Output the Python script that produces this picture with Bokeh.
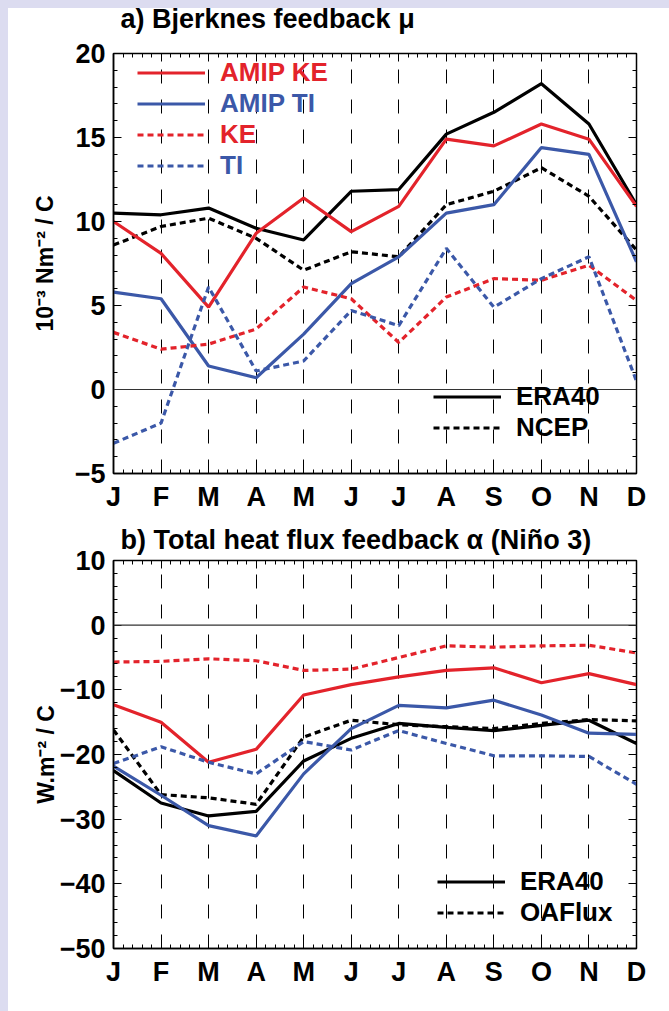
from bokeh.plotting import figure
from bokeh.models import (Range1d, FixedTicker, LinearAxis, Legend, LegendItem,
                          Span, Title)
from bokeh.layouts import column
from bokeh.embed import file_html
from bokeh.resources import INLINE

months = ["J", "F", "M", "A", "M", "J", "J", "A", "S", "O", "N", "D"]
x = list(range(12))

# Panel a) Bjerknes feedback (10^-3 N m^-2 / C)
a_era40 = [10.5, 10.4, 10.8, 9.6, 8.9, 11.8, 11.9, 15.2, 16.5, 18.2, 15.8, 11.0]
a_ncep = [8.6, 9.7, 10.2, 9.0, 7.1, 8.2, 7.9, 11.0, 11.8, 13.2, 11.5, 8.3]
a_amip_ke = [10.0, 8.1, 4.9, 9.3, 11.4, 9.4, 10.9, 14.9, 14.5, 15.8, 14.9, 10.9]
a_amip_ti = [5.8, 5.4, 1.4, 0.7, 3.3, 6.3, 7.9, 10.5, 11.0, 14.4, 14.0, 7.6]
a_ke = [3.4, 2.4, 2.7, 3.6, 6.1, 5.4, 2.8, 5.5, 6.6, 6.5, 7.4, 5.3]
a_ti = [-3.2, -2.0, 6.1, 1.1, 1.7, 4.7, 3.8, 8.4, 4.9, 6.6, 7.9, 0.5]

# Panel b) Total heat flux feedback (W m^-2 / C)
b_era40 = [-22.5, -27.5, -29.5, -28.8, -21.0, -17.5, -15.2, -15.8, -16.3, -15.5, -14.7, -18.3]
b_oaflux = [-16.2, -26.2, -26.7, -27.7, -17.3, -14.7, -15.4, -15.7, -16.0, -15.2, -14.6, -14.8]
b_amip_ke = [-12.3, -15.0, -21.2, -19.2, -10.8, -9.2, -8.0, -7.0, -6.6, -8.9, -7.5, -9.2]
b_amip_ti = [-21.8, -26.3, -31.0, -32.6, -23.0, -16.0, -12.4, -12.8, -11.6, -13.9, -16.7, -16.9]
b_ke = [-5.7, -5.6, -5.2, -5.5, -7.0, -6.8, -5.0, -3.2, -3.4, -3.2, -3.1, -4.3]
b_ti = [-21.4, -18.8, -21.2, -23.0, -18.0, -19.3, -16.3, -18.3, -20.2, -20.2, -20.3, -24.6]

RED = "#e3232b"
BLUE = "#3b58a8"
BLACK = "#000000"
FONT = "Liberation Sans"
DASH = "6 4"
LW = 3.2


def make_panel(height, yr, yticks, yminor, border_top, border_bottom, title, ylabel,
               lstand, tstand):
    p = figure(width=661, height=height, x_range=Range1d(0, 11), y_range=Range1d(*yr),
               output_backend="svg", toolbar_location=None,
               min_border_left=105, min_border_right=33,
               min_border_top=border_top, min_border_bottom=border_bottom)
    p.outline_line_color = "black"
    p.outline_line_width = 1.5
    p.background_fill_color = "white"
    p.border_fill_color = "white"

    xt = FixedTicker(ticks=x, minor_ticks=[i / 5 for i in range(0, 56)])
    yt = FixedTicker(ticks=yticks, minor_ticks=yminor)

    p.xaxis.ticker = xt
    p.xaxis.major_label_overrides = {i: m for i, m in enumerate(months)}
    p.yaxis.ticker = yt
    for ax in (p.xaxis[0], p.yaxis[0]):
        ax.major_tick_in = 8
        ax.major_tick_out = 0
        ax.minor_tick_in = 4
        ax.minor_tick_out = 0
        ax.axis_line_color = "black"
        ax.axis_line_width = 1.5
        ax.major_label_text_font = FONT
        ax.major_label_text_font_size = "27px"
        ax.major_label_text_font_style = "bold"
        ax.major_label_text_color = "black"
        ax.major_label_standoff = 8
    p.yaxis.axis_label = ylabel
    p.yaxis.axis_label_text_font = FONT
    p.yaxis.axis_label_text_font_size = "23px"
    p.yaxis.axis_label_text_font_style = "bold"
    p.yaxis.axis_label_text_color = "black"
    p.yaxis.axis_label_standoff = lstand

    top = LinearAxis(ticker=xt, major_tick_in=8, major_tick_out=0, minor_tick_in=4,
                     minor_tick_out=0, major_label_text_font_size="0px",
                     major_label_text_color=None, axis_line_color="black")
    right = LinearAxis(ticker=yt, major_tick_in=8, major_tick_out=0, minor_tick_in=4,
                       minor_tick_out=0, major_label_text_font_size="0px",
                       major_label_text_color=None, axis_line_color="black")
    p.add_layout(top, "above")
    p.add_layout(right, "right")
    p.add_layout(Title(text=title, align="left", offset=7, text_font=FONT,
                       text_font_size="27px", text_font_style="bold",
                       text_color="black", standoff=tstand), "above")

    p.xgrid.ticker = FixedTicker(ticks=list(range(1, 11)))
    p.xgrid.grid_line_color = "black"
    p.xgrid.grid_line_width = 1
    p.xgrid.grid_line_dash = "14 16"
    p.ygrid.visible = False
    p.add_layout(Span(location=0, dimension="width", line_color="#333333", line_width=1.2))
    return p


def add_series(p, era, ref, amip_ke, amip_ti, ke, ti):
    r_era = p.line(x, era, line_color=BLACK, line_width=LW)
    r_ref = p.line(x, ref, line_color=BLACK, line_width=LW, line_dash=DASH)
    r_ake = p.line(x, amip_ke, line_color=RED, line_width=LW)
    r_ati = p.line(x, amip_ti, line_color=BLUE, line_width=LW)
    r_ke = p.line(x, ke, line_color=RED, line_width=LW, line_dash=DASH)
    r_ti = p.line(x, ti, line_color=BLUE, line_width=LW, line_dash=DASH)
    return r_era, r_ref, r_ake, r_ati, r_ke, r_ti


def legend(items, loc, color, gh=31):
    lg = Legend(items=[LegendItem(label=t, renderers=[r]) for t, r in items],
                location=loc, label_text_color=color, label_text_font=FONT,
                label_text_font_size="26px", label_text_font_style="bold",
                glyph_width=68, glyph_height=gh, label_height=gh, label_standoff=15,
                padding=0, margin=0, spacing=0, border_line_color=None,
                background_fill_alpha=0)
    return lg


# ---------- panel a ----------
p1 = make_panel(535, (-5, 20), [-5, 0, 5, 10, 15, 20], list(range(-5, 21)), 73, 42,
                "a)  Bjerknes feedback  μ", "10⁻³ Nm⁻² / C", 14, 40)
p1.border_fill_alpha = 0
ra = add_series(p1, a_era40, a_ncep, a_amip_ke, a_amip_ti, a_ke, a_ti)
p1.add_layout(legend([("AMIP KE", ra[2])], (24, 385), RED))
p1.add_layout(legend([("AMIP TI", ra[3])], (24, 354), BLUE))
p1.add_layout(legend([("KE", ra[4])], (24, 323), RED))
p1.add_layout(legend([("TI", ra[5])], (24, 292), BLUE))
p1.add_layout(legend([("ERA40", ra[0]), ("NCEP", ra[1])], (320, 30), BLACK))
p1.margin = (-20, 0, 0, 8)

# ---------- panel b ----------
p2 = make_panel(496, (-50, 10), [-50, -40, -30, -20, -10, 0, 10], list(range(-50, 11, 2)), 45, 63,
                "b)  Total heat flux feedback α (Niño 3)", "W.m⁻² / C", -2, 12)
rb = add_series(p2, b_era40, b_oaflux, b_amip_ke, b_amip_ti, b_ke, b_ti)
p2.add_layout(legend([("ERA40", rb[0]), ("OAFlux", rb[1])], (324, 20), BLACK, gh=27))
p2.margin = (0, 0, 0, 8)

bg = ("linear-gradient(#dcdcf0 8px, transparent 8px), "
      "linear-gradient(to right, #dcdcf0 8px, #ffffff 8px)")
layout = column(p1, p2, styles={"background": bg})
open("out.html", "w").write(file_html(layout, INLINE))
